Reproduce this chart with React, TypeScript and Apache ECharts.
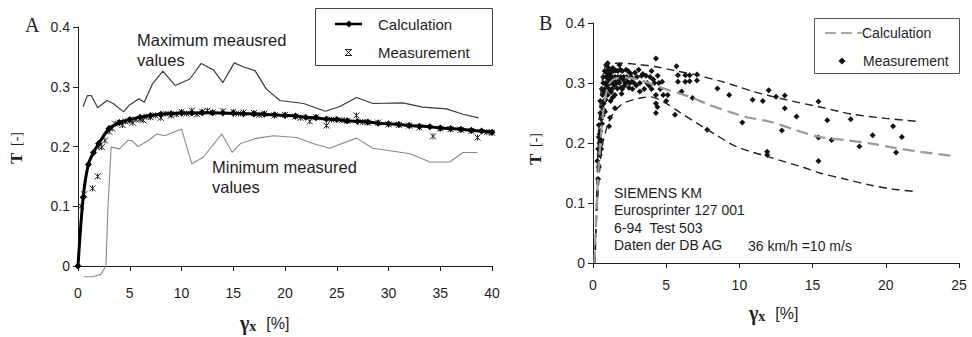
import React, { useEffect, useRef } from "react";
import * as echarts from "echarts";

// ---------- Panel A data ----------
const calcA: number[][] = [
  [0, 0], [0.5, 0.115], [1, 0.17], [1.5, 0.19], [2, 0.205], [3, 0.23], [4, 0.24], [5, 0.245],
  [6, 0.249], [7, 0.252], [8, 0.254], [9, 0.255], [10, 0.256], [11, 0.256], [12, 0.2565],
  [13, 0.2565], [14, 0.256], [15, 0.2555], [16, 0.255], [17, 0.2545], [18, 0.254], [19, 0.253],
  [20, 0.252], [21, 0.251], [22, 0.249], [23, 0.248], [24, 0.246], [25, 0.245], [26, 0.243],
  [27, 0.242], [28, 0.241], [29, 0.239], [30, 0.238], [31, 0.237], [32, 0.235], [33, 0.234],
  [34, 0.233], [35, 0.231], [36, 0.23], [37, 0.229], [38, 0.227], [39, 0.226], [40, 0.224],
];
const measA: number[][] = [
  [0.3, 0.1], [0.6, 0.12], [1.4, 0.13], [1.9, 0.15], [2.0, 0.2], [2.3, 0.199], [2.6, 0.21],
  [3.0, 0.225], [3.3, 0.23], [3.6, 0.238], [4.0, 0.24], [4.3, 0.236], [4.6, 0.242], [5.0, 0.243],
  [5.3, 0.24], [5.6, 0.245], [6.0, 0.246], [6.3, 0.244], [6.6, 0.25], [7.0, 0.249], [7.5, 0.252],
  [8.0, 0.248], [8.5, 0.255], [9.0, 0.252], [9.5, 0.254], [10, 0.258], [10.5, 0.255], [11, 0.26],
  [11.5, 0.254], [12, 0.258], [12.5, 0.26], [13, 0.257], [14, 0.259], [15, 0.258], [15.5, 0.255],
  [16, 0.257], [17, 0.256], [17.5, 0.253], [18, 0.255], [19, 0.252], [20, 0.253], [21, 0.25],
  [21.5, 0.248], [22.4, 0.242], [23, 0.249], [24, 0.235], [24.5, 0.245], [25.5, 0.244],
  [26, 0.243], [26.9, 0.252], [27.5, 0.241], [28, 0.24], [29, 0.24], [30, 0.237], [31, 0.236],
  [32, 0.235], [33, 0.232], [34.3, 0.217], [35, 0.23], [36, 0.229], [37, 0.228], [38, 0.226],
  [38.6, 0.215], [39.5, 0.224], [40, 0.223],
];
const maxA: number[][] = [
  [0.5, 0.267], [0.9, 0.285], [1.3, 0.285], [1.9, 0.265], [2.8, 0.277], [3.4, 0.272],
  [4.4, 0.258], [5.0, 0.27], [5.9, 0.28], [6.4, 0.274], [7.2, 0.305], [8.2, 0.326], [9.4, 0.302],
  [10.8, 0.313], [11.9, 0.339], [13.1, 0.328], [14.0, 0.307], [15.1, 0.34], [16.0, 0.333],
  [17.1, 0.327], [18.2, 0.296], [19.5, 0.277], [21.8, 0.272], [23.9, 0.259], [25.3, 0.267],
  [26.9, 0.282], [28.5, 0.272], [31.4, 0.273], [33.3, 0.266], [35.6, 0.263], [37.2, 0.254],
  [38.7, 0.248],
];
const minA: number[][] = [
  [0.6, -0.018], [1.4, -0.018], [2.2, -0.014], [2.7, 0.0], [2.9, 0.1], [3.2, 0.199],
  [4.0, 0.196], [4.8, 0.21], [5.2, 0.21], [5.8, 0.2], [6.8, 0.21], [7.6, 0.221], [8.4, 0.218],
  [9.2, 0.224], [10.0, 0.229], [11.0, 0.171], [12.1, 0.182], [13.9, 0.221], [14.9, 0.19],
  [15.7, 0.205], [17.3, 0.214], [18.9, 0.218], [21.1, 0.215], [22.7, 0.205], [24.3, 0.197],
  [26.9, 0.214], [28.5, 0.197], [32.1, 0.188], [34.0, 0.174], [35.9, 0.174], [37.2, 0.19],
  [38.6, 0.19],
];

// ---------- Panel B data ----------
const upperB: number[][] = [
  [0.15, 0], [0.3, 0.16], [0.5, 0.27], [0.7, 0.315], [1.0, 0.332], [2.0, 0.333], [3.0, 0.331],
  [4.3, 0.327], [5.5, 0.321], [7.1, 0.313], [8.7, 0.303], [9.9, 0.294], [10.9, 0.286],
  [13.2, 0.272], [15.5, 0.26], [17.7, 0.248], [20.0, 0.241], [22.2, 0.236],
];
const calcB: number[][] = [
  [0.1, 0], [0.3, 0.12], [0.5, 0.2], [0.8, 0.27], [1.1, 0.298], [1.6, 0.308], [2.3, 0.309],
  [3.2, 0.305], [4.0, 0.298], [4.8, 0.291], [6.6, 0.277], [8.0, 0.263], [9.3, 0.252],
  [10.5, 0.243], [12.1, 0.2355], [13.8, 0.222], [15.5, 0.21], [17.2, 0.205], [18.9, 0.1995],
  [20.6, 0.192], [22.3, 0.1855], [24.7, 0.178],
];
const lowerB: number[][] = [
  [0.1, 0], [0.3, 0.1], [0.6, 0.19], [1.0, 0.23], [1.4, 0.25], [2.0, 0.265], [2.7, 0.272],
  [3.5, 0.276], [3.9, 0.277], [5.0, 0.266], [6.0, 0.25], [7.1, 0.233], [8.3, 0.215],
  [9.8, 0.194], [12.1, 0.176], [14.3, 0.16], [15.5, 0.15], [17.2, 0.14], [18.9, 0.13],
  [20.5, 0.123], [22.1, 0.119],
];
const measB: number[][] = [
  [0.3, 0.17], [0.35, 0.19], [0.4, 0.21], [0.4, 0.23], [0.45, 0.2], [0.5, 0.22], [0.5, 0.25],
  [0.55, 0.24], [0.5, 0.27], [0.6, 0.26], [0.6, 0.29], [0.65, 0.28], [0.7, 0.3], [0.7, 0.31],
  [0.75, 0.27], [0.8, 0.29], [0.8, 0.32], [0.85, 0.3], [0.9, 0.33], [0.9, 0.31], [1.0, 0.32],
  [1.0, 0.3], [1.0, 0.28], [1.1, 0.31], [1.1, 0.29], [1.2, 0.32], [1.2, 0.3], [1.2, 0.27],
  [1.3, 0.31], [1.3, 0.29], [1.4, 0.32], [1.4, 0.3], [1.5, 0.31], [1.5, 0.28], [1.6, 0.3],
  [1.7, 0.32], [1.7, 0.31], [1.8, 0.3], [1.9, 0.31], [2.0, 0.32], [2.0, 0.29], [2.1, 0.31],
  [2.2, 0.3], [2.3, 0.31], [2.4, 0.32], [2.5, 0.3], [2.6, 0.31], [2.7, 0.29], [2.8, 0.3],
  [3.0, 0.31], [3.2, 0.3], [3.4, 0.315], [3.5, 0.29], [3.7, 0.3], [3.9, 0.31], [4.0, 0.29],
  [4.2, 0.3], [4.3, 0.28], [4.5, 0.3], [4.6, 0.29], [4.8, 0.28], [5.0, 0.27], [5.1, 0.28],
  [0.45, 0.215], [0.55, 0.205], [0.62, 0.232], [0.66, 0.246], [0.72, 0.256], [0.73, 0.266],
  [0.77, 0.286], [0.82, 0.252], [0.86, 0.272], [0.92, 0.287], [0.96, 0.296], [0.97, 0.316],
  [1.06, 0.306], [1.04, 0.326], [1.16, 0.316], [1.26, 0.305], [1.24, 0.285], [1.36, 0.325],
  [1.34, 0.276], [1.46, 0.296], [1.56, 0.321], [1.54, 0.302], [1.66, 0.291], [1.76, 0.303],
  [1.86, 0.322], [1.92, 0.292], [2.06, 0.306], [2.16, 0.296], [2.26, 0.322], [2.36, 0.302],
  [2.46, 0.292], [2.56, 0.316], [2.66, 0.302], [2.86, 0.317], [2.96, 0.296], [3.12, 0.322],
  [3.32, 0.312], [3.62, 0.312], [3.82, 0.296], [4.12, 0.306], [4.42, 0.312], [4.72, 0.302],
  [0.35, 0.14], [0.4, 0.16], [0.46, 0.18], [0.56, 0.19],
  [1.0, 0.333], [1.8, 0.33], [1.95, 0.282], [1.5, 0.258], [1.16, 0.242], [1.1, 0.228],
  [3.2, 0.286], [4.3, 0.266], [4.4, 0.26], [4.3, 0.25], [5.6, 0.247], [7.8, 0.222],
  [4.3, 0.341], [5.7, 0.328], [4.0, 0.32], [5.8, 0.313], [6.3, 0.313], [6.6, 0.313],
  [7.1, 0.314], [5.8, 0.302], [6.3, 0.302], [6.6, 0.303], [7.1, 0.304], [6.05, 0.286],
  [6.8, 0.275], [8.5, 0.291], [9.3, 0.28], [10.2, 0.234], [10.9, 0.272], [11.6, 0.27],
  [12.0, 0.288], [12.5, 0.277], [13.1, 0.279], [13.1, 0.258], [13.9, 0.244], [12.9, 0.221],
  [11.9, 0.1855], [11.9, 0.18], [15.4, 0.269], [15.4, 0.209], [15.4, 0.17], [16.0, 0.238],
  [16.3, 0.205], [17.6, 0.2395], [18.2, 0.194], [19.1, 0.213], [20.5, 0.228], [20.7, 0.184],
  [21.1, 0.21],
];

const legendNames = ["Calculation", "Measurement"];
const boxLines = ["SIEMENS KM", "Eurosprinter 127 001", "6-94  Test 503", "Daten der DB AG"];
const speedNote = "36 km/h =10 m/s";

const SANS = "'Liberation Sans', Arial, sans-serif";
const SERIF = "'Liberation Serif', 'DejaVu Serif', serif";
const INK = "#1e1e1e";

const asterisk = "path://M0,0L10,10M10,0L0,10M5,0L5,10";

function axisCommon(max: number, interval: number, margin: number) {
  return {
    type: "value" as const,
    min: 0,
    max,
    interval,
    axisLine: { show: true, lineStyle: { color: INK, width: 1 } },
    axisTick: { show: true, length: 5, lineStyle: { color: INK } },
    axisLabel: { color: INK, fontSize: 14, fontFamily: SANS, margin },
    splitLine: { show: false },
  };
}

function diamond(cx: number, cy: number, r: number, fill: string) {
  return {
    type: "polygon",
    shape: { points: [[cx, cy - r], [cx + r, cy], [cx, cy + r], [cx - r, cy]] },
    style: { fill },
  };
}

function seg(x1: number, y1: number, x2: number, y2: number) {
  return { type: "line", z: 11, shape: { x1, y1, x2, y2 }, style: { stroke: "#222", lineWidth: 1 } };
}

function yTitle(x: number, y: number) {
  return {
    type: "text",
    x,
    y,
    rotation: Math.PI / 2,
    style: {
      text: "{t|T}  {u|[-]}",
      fill: INK,
      rich: {
        t: { font: `bold 17px ${SERIF}`, fill: INK },
        u: { font: `14px ${SERIF}`, fill: INK },
      },
    },
  };
}

function xTitle(x: number, y: number) {
  return {
    type: "text",
    x,
    y,
    style: {
      text: "{g|γ}{s|x}   {u|[%]}",
      fill: INK,
      rich: {
        g: { font: `bold 20px ${SERIF}`, fill: INK },
        s: { font: `bold 14px ${SERIF}`, fill: INK, verticalAlign: "bottom" },
        u: { font: `16px ${SANS}`, fill: INK },
      },
    },
  };
}

export default function App() {
  const ref = useRef<HTMLDivElement>(null);
  useEffect(() => {
    if (!ref.current) return;
    const chart = echarts.init(ref.current, null, { renderer: "svg" });
    const option: any = {
      animation: false,
      backgroundColor: "#fff",
      grid: [
        { left: 78, top: 27, width: 414, height: 239 },
        { left: 593, top: 23, width: 366, height: 240 },
      ],
      xAxis: [
        { ...axisCommon(40, 5, 20), gridIndex: 0 },
        { ...axisCommon(25, 5, 15), gridIndex: 1 },
      ],
      yAxis: [
        { ...axisCommon(0.4, 0.1, 8), gridIndex: 0 },
        { ...axisCommon(0.4, 0.1, 8), gridIndex: 1 },
      ],
      graphic: [
        { type: "text", left: 25, top: 15, style: { text: "A", font: `20px ${SERIF}`, fill: INK } },
        { type: "text", left: 539, top: 13, style: { text: "B", font: `20px ${SERIF}`, fill: INK } },
        {
          type: "text",
          x: 137,
          y: 30,
          style: { text: "Maximum meausred\nvalues", font: `16.5px ${SANS}`, fill: INK, lineHeight: 20 },
        },
        {
          type: "text",
          x: 212,
          y: 157,
          style: { text: "Minimum measured\nvalues", font: `16.5px ${SANS}`, fill: INK, lineHeight: 20 },
        },
        {
          type: "text",
          x: 614,
          y: 184,
          style: { text: boxLines.join("\n"), font: `14px ${SANS}`, fill: INK, lineHeight: 17.5 },
        },
        {
          type: "text",
          x: 748,
          y: 239,
          style: { text: speedNote, font: `14px ${SANS}`, fill: INK },
        },
        // Legend A
        {
          type: "rect",
          shape: { x: 315.5, y: 8.5, width: 177, height: 57 },
          style: { fill: "#fff", stroke: "#444", lineWidth: 1 },
          z: 10,
        },
        {
          type: "line",
          shape: { x1: 335, y1: 24, x2: 362, y2: 24 },
          style: { stroke: "#000", lineWidth: 2.5 },
          z: 11,
        },
        { ...diamond(349, 24, 3.5, "#000"), z: 11 },
        {
          type: "text",
          x: 378,
          y: 24,
          style: { text: legendNames[0], font: `15px ${SANS}`, fill: INK, verticalAlign: "middle" },
          z: 11,
        },
        seg(345.5, 49.5, 351.5, 55.5),
        seg(351.5, 49.5, 345.5, 55.5),
        seg(345, 49.5, 352, 49.5),
        seg(345, 55.5, 352, 55.5),
        {
          type: "text",
          x: 378,
          y: 52,
          style: { text: legendNames[1], font: `15px ${SANS}`, fill: INK, verticalAlign: "middle" },
          z: 11,
        },
        // Legend B
        {
          type: "rect",
          shape: { x: 814.5, y: 18.5, width: 145, height: 55 },
          style: { fill: "#fff", stroke: "#555", lineWidth: 1 },
          z: 10,
        },
        {
          type: "line",
          shape: { x1: 825, y1: 33, x2: 862, y2: 33 },
          style: { stroke: "#8c8c8c", lineWidth: 1.6, lineDash: [11, 5] },
          z: 11,
        },
        {
          type: "text",
          x: 862,
          y: 33,
          style: { text: legendNames[0], font: `14px ${SANS}`, fill: INK, verticalAlign: "middle" },
          z: 11,
        },
        { ...diamond(842, 61, 3.5, "#111"), z: 11 },
        {
          type: "text",
          x: 863,
          y: 61,
          style: { text: legendNames[1], font: `14px ${SANS}`, fill: INK, verticalAlign: "middle" },
          z: 11,
        },
        yTitle(8, 164),
        yTitle(527, 165),
        xTitle(240, 313),
        xTitle(749, 303),
      ],
      series: [
        {
          name: "Maximum",
          type: "line",
          xAxisIndex: 0,
          yAxisIndex: 0,
          data: maxA,
          symbol: "none",
          lineStyle: { color: "#3a3a3a", width: 1.2 },
        },
        {
          name: "Minimum",
          type: "line",
          xAxisIndex: 0,
          yAxisIndex: 0,
          data: minA,
          clip: false,
          symbol: "none",
          lineStyle: { color: "#8a8a8a", width: 1.1 },
        },
        {
          name: "Measurement",
          type: "scatter",
          xAxisIndex: 0,
          yAxisIndex: 0,
          data: measA,
          symbol: asterisk,
          symbolSize: 6,
          itemStyle: { color: "#222", borderColor: "#222", borderWidth: 1, opacity: 1 },
        },
        {
          name: "Calculation",
          type: "line",
          xAxisIndex: 0,
          yAxisIndex: 0,
          data: calcA,
          smooth: 0.3,
          symbol: "diamond",
          symbolSize: 7,
          itemStyle: { color: "#000" },
          lineStyle: { color: "#000", width: 3 },
        },
        {
          name: "Upper bound",
          type: "line",
          xAxisIndex: 1,
          yAxisIndex: 1,
          data: upperB,
          smooth: 0.3,
          symbol: "none",
          lineStyle: { color: "#222", width: 1.4, type: [8, 5] },
        },
        {
          name: "Lower bound",
          type: "line",
          xAxisIndex: 1,
          yAxisIndex: 1,
          data: lowerB,
          smooth: 0.3,
          symbol: "none",
          lineStyle: { color: "#222", width: 1.4, type: [8, 5] },
        },
        {
          name: "Calculation B",
          type: "line",
          xAxisIndex: 1,
          yAxisIndex: 1,
          data: calcB,
          smooth: 0.3,
          symbol: "none",
          lineStyle: { color: "#9a9a9a", width: 2.2, type: [12, 6] },
        },
        {
          name: "Measurement B",
          type: "scatter",
          xAxisIndex: 1,
          yAxisIndex: 1,
          data: measB,
          symbol: "diamond",
          symbolSize: 6,
          itemStyle: { color: "#111", opacity: 1 },
        },
      ],
    };
    chart.setOption(option);
    return () => chart.dispose();
  }, []);
  return (
    <div
      ref={ref}
      style={{ position: "fixed", left: 0, top: 0, width: 972, height: 337 }}
    />
  );
}
